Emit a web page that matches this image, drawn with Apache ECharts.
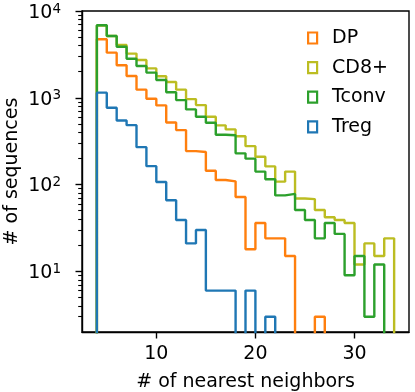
<!DOCTYPE html>
<html>
<head>
<meta charset="utf-8">
<script src="https://cdn.jsdelivr.net/npm/echarts@6/dist/echarts.min.js"></script>
<style>
html, body { margin: 0; padding: 0; background: #fff; }
#chart { width: 415px; height: 392px; }
</style>
</head>
<body>
<div id="chart"></div>
<script>
// histogram bins: width 1, first edge at 4 (30 bins, 4..34)
var binStart = 4;
var binWidth = 1;

var seriesNames = ['DP', 'CD8+', 'Tconv', 'Treg'];
var seriesColors = ['#ff7f0e', '#bcbd22', '#2ca02c', '#1f77b4'];

var dpCounts = [4720, 3310, 2370, 1780, 1240, 975, 817, 520, 424, 243, 237, 144, 113, 109, 72, 18, 36, 24, 24, 15, 0, 0, 3, 0, 0, 0, 0, 0, 0, 0];
var cd8Counts = [6800, 5150, 4060, 3230, 2720, 2180, 1770, 1520, 1240, 966, 824, 605, 481, 432, 361, 277, 209, 162, 108, 141, 69, 68, 51, 42, 39, 36, 12, 21, 15, 24];
var tconvCounts = [6840, 5150, 3880, 2820, 2320, 1950, 1600, 1160, 940, 735, 605, 516, 375, 370, 229, 199, 141, 115, 75, 78, 51, 39, 24, 36, 27, 9, 15, 3, 12, 0];
var tregCounts = [1146, 769, 548, 484, 270, 163, 107, 66, 39, 21, 30, 6, 6, 6, 0, 6, 0, 3, 0, 0, 0, 0, 0, 0, 0, 0, 0, 0, 0, 0];

var xTicks = [10, 20, 30];
var yTicks = [10, 100, 1000, 10000];
var yMinorTicks = [3, 4, 5, 6, 7, 8, 9, 20, 30, 40, 50, 60, 70, 80, 90,
  200, 300, 400, 500, 600, 700, 800, 900, 2000, 3000, 4000, 5000, 6000, 7000, 8000, 9000];

var yMin = 2, yMax = 10000;
var floorValue = 0.5; // zero counts drop below the log axis and get clipped

// outline of a step histogram
function stepPoints(counts) {
  var pts = [[binStart, floorValue]];
  for (var i = 0; i < counts.length; i++) {
    var v = counts[i] > 0 ? counts[i] : floorValue;
    pts.push([binStart + i * binWidth, v]);
    pts.push([binStart + (i + 1) * binWidth, v]);
  }
  pts.push([binStart + counts.length * binWidth, floorValue]);
  return pts;
}

var allCounts = [dpCounts, cd8Counts, tconvCounts, tregCounts];
var font = 'DejaVu Sans';
var fs = 19;

var chart = echarts.init(document.getElementById('chart'));
chart.setOption({
  animation: false,
  textStyle: { fontFamily: font },
  grid: {
    left: 82, right: 6, top: 11, bottom: 60,
    outerBoundsMode: 'none',
    containLabel: false,
    show: true, borderColor: '#000', borderWidth: 1.4, backgroundColor: 'transparent'
  },
  legend: {
    orient: 'vertical',
    left: 307,
    top: 28,
    padding: 0,
    itemWidth: 9,
    itemHeight: 11,
    itemGap: 9.6,
    lineStyle: { opacity: 0 },
    textStyle: { fontFamily: font, fontSize: fs, color: '#000', lineHeight: 20, padding: [0, 0, 0, 10] },
    data: seriesNames.map(function (n, i) {
      return {
        name: n,
        icon: 'rect',
        itemStyle: { color: 'transparent', borderColor: seriesColors[i], borderWidth: 2.2 }
      };
    })
  },
  xAxis: {
    type: 'value',
    min: 2.5,
    max: 35.5,
    name: '# of nearest neighbors',
    nameLocation: 'middle',
    nameGap: 41,
    nameMoveOverlap: false,
    nameTextStyle: { fontFamily: font, fontSize: fs, color: '#000' },
    splitLine: { show: false },
    axisLine: { lineStyle: { color: '#000', width: 1.4 } },
    axisTick: { customValues: xTicks, length: 6.5, lineStyle: { color: '#000', width: 1.4 } },
    axisLabel: { customValues: xTicks, margin: 13, fontFamily: font, fontSize: fs, color: '#000' }
  },
  yAxis: [{
    type: 'log',
    logBase: 10,
    min: yMin,
    max: yMax,
    name: '# of sequences',
    nameLocation: 'middle',
    nameGap: 60,
    nameMoveOverlap: false,
    nameTextStyle: { fontFamily: font, fontSize: fs, color: '#000' },
    splitLine: { show: false },
    axisLine: { show: true, lineStyle: { color: '#000', width: 1.4 } },
    axisTick: { customValues: yTicks, length: 6.5, lineStyle: { color: '#000', width: 1.4 } },
    axisLabel: {
      customValues: yTicks,
      margin: 21,
      padding: [4, 0, 0, 0],
      formatter: function (v) {
        return '{b|10}{s|' + Math.round(Math.log10(v)) + '}';
      },
      rich: {
        b: { fontFamily: font, fontSize: fs, color: '#000', lineHeight: 22 },
        s: { fontFamily: font, fontSize: 13.5, color: '#000', lineHeight: 13.5, verticalAlign: 'top' }
      }
    }
  }, {
    type: 'log',
    logBase: 10,
    min: yMin,
    max: yMax,
    position: 'left',
    splitLine: { show: false },
    axisLine: { show: false },
    axisLabel: { show: false },
    axisTick: { customValues: yMinorTicks, length: 3.8, lineStyle: { color: '#000', width: 1.1 } }
  }],
  series: seriesNames.map(function (n, i) {
    return {
      name: n,
      type: 'line',
      yAxisIndex: 0,
      showSymbol: false,
      clip: true,
      itemStyle: { color: seriesColors[i] },
      lineStyle: { color: seriesColors[i], width: 2.4 },
      data: stepPoints(allCounts[i])
    };
  })
});
</script>
</body>
</html>
